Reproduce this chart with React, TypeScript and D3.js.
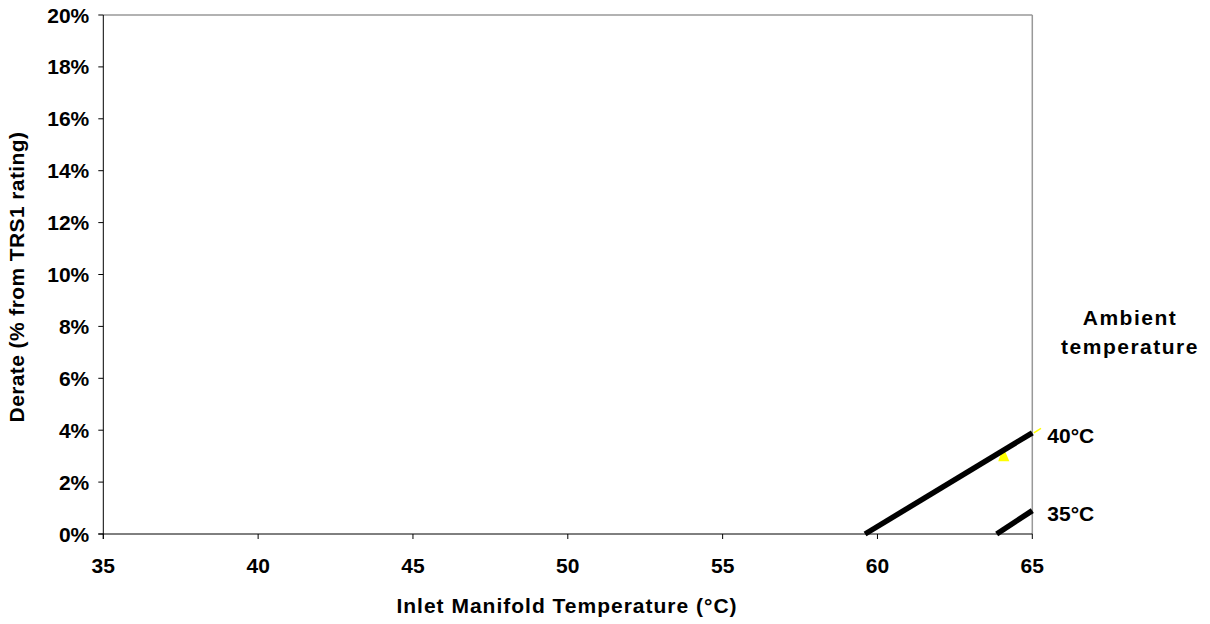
import React from "react";
import * as d3 from "d3";

const xTicks = [35, 40, 45, 50, 55, 60, 65];
const yTicks = [0, 2, 4, 6, 8, 10, 12, 14, 16, 18, 20];
const series40 = [
  { t: 59.6, d: 0 },
  { t: 65, d: 3.9 },
];
const series35 = [
  { t: 63.85, d: 0 },
  { t: 65, d: 0.9 },
];
const yellowMark = [
  { t: 64.06, d: 3.35 },
  { t: 63.9, d: 2.8 },
  { t: 64.26, d: 2.8 },
];
const yellowTail = [
  { t: 65.05, d: 3.9 },
  { t: 65.28, d: 4.07 },
];
const seriesLabels = [
  { name: "40°C", t: 65, d: 3.9 },
  { name: "35°C", t: 65, d: 0.9 },
];

const W = 1210;
const H = 624;
const L = 103.3, R = 1032.3, T = 15, B = 534;
const font = "'Liberation Sans', Arial, sans-serif";
const FS = 21;

export default function App() {
  const x = d3.scaleLinear().domain([35, 65]).range([L, R]);
  const y = d3.scaleLinear().domain([0, 20]).range([B, T]);
  const line = d3
    .line<{ t: number; d: number }>()
    .x((p) => x(p.t))
    .y((p) => y(p.d));

  return (
    <svg
      width={W}
      height={H}
      style={{ position: "absolute", left: 0, top: 0, background: "#fff" }}
      fontFamily={font}
      fontWeight="bold"
    >
      {/* plot frame */}
      <line x1={L} y1={T} x2={R} y2={T} stroke="#999" strokeWidth={1.5} />
      <line x1={R} y1={T} x2={R} y2={B} stroke="#999" strokeWidth={1.5} />
      <line x1={L} y1={T} x2={L} y2={B + 5} stroke="#000" strokeWidth={1} />
      <line x1={L - 5} y1={B} x2={R} y2={B} stroke="#000" strokeWidth={1} />

      {yTicks.map((v) => (
        <g key={"y" + v}>
          <line x1={L - 5} x2={L} y1={y(v)} y2={y(v)} stroke="#000" />
          <text x={L - 14} y={y(v) + 7.5} textAnchor="end" fontSize={FS}>
            {v}%
          </text>
        </g>
      ))}
      {xTicks.map((v) => (
        <g key={"x" + v}>
          <line x1={x(v)} x2={x(v)} y1={B} y2={B + 5} stroke="#000" />
          <text x={x(v)} y={573} textAnchor="middle" fontSize={FS}>
            {v}
          </text>
        </g>
      ))}

      <text x={567} y={613} textAnchor="middle" fontSize={FS} letterSpacing={1}>
        Inlet Manifold Temperature (°C)
      </text>
      <text
        transform={`translate(24,277) rotate(-90)`}
        textAnchor="middle"
        fontSize={FS}
        letterSpacing={0.4}
      >
        Derate (% from TRS1 rating)
      </text>

      <path d={line(yellowMark) + "Z"} fill="#ffff00" />
      <path d={line(yellowTail) ?? ""} stroke="#ffff00" strokeWidth={1.5} fill="none" />
      <path d={line(series40) ?? ""} stroke="#000" strokeWidth={5.5} fill="none" />
      <path d={line(series35) ?? ""} stroke="#000" strokeWidth={5.5} fill="none" />

      {seriesLabels.map((s) => (
        <text key={s.name} x={x(s.t) + 15} y={y(s.d) + 10} fontSize={FS}>
          {s.name}
        </text>
      ))}

      <text x={1130} y={325} textAnchor="middle" fontSize={FS} letterSpacing={1.5}>
        Ambient
      </text>
      <text x={1130} y={354} textAnchor="middle" fontSize={FS} letterSpacing={1.5}>
        temperature
      </text>
    </svg>
  );
}
